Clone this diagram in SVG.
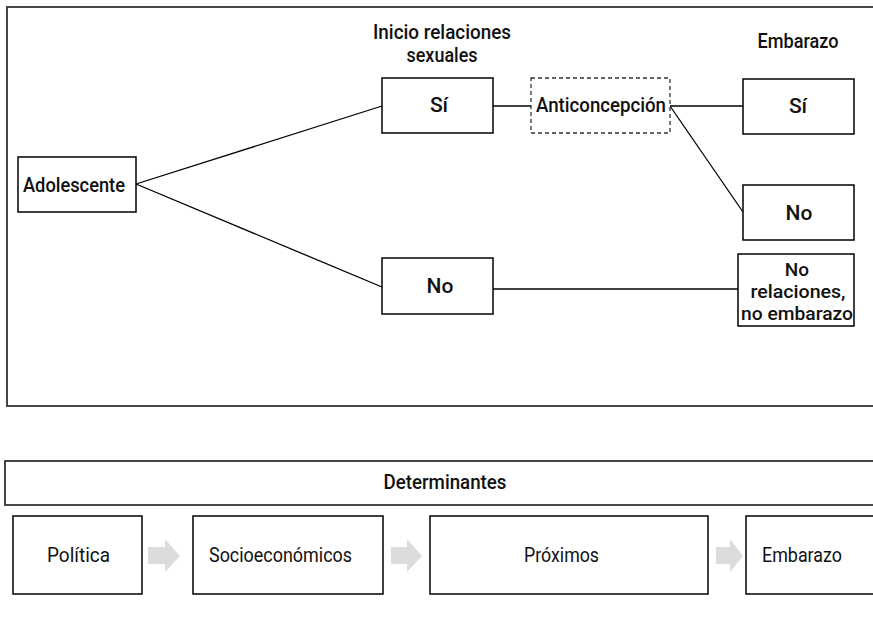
<svg xmlns="http://www.w3.org/2000/svg" width="873" height="624" viewBox="0 0 873 624">
<style>
.box{fill:#fff;stroke:#000;stroke-width:1.5}
.frame{fill:none;stroke:#333;stroke-width:1.8}
.dash{fill:#fff;stroke:#333;stroke-width:1.3;stroke-dasharray:4 3}
.b{font-family:Roboto,"Liberation Sans",Arial,sans-serif;font-size:21px;font-weight:500;fill:#111;text-anchor:middle}
.s{font-size:19px}
.r{font-family:Roboto,"Liberation Sans",Arial,sans-serif;font-size:20px;font-weight:400;fill:#111}
.ln{stroke:#000;stroke-width:1.3;fill:none}
.arr{fill:#dcdcdc}
</style>
<rect class="frame" x="7" y="7" width="880" height="399"/>
<g id="connectors">
<line class="ln" x1="136" y1="184" x2="382" y2="106"/>
<line class="ln" x1="136" y1="184" x2="382" y2="287"/>
<line class="ln" x1="493" y1="106" x2="531" y2="106"/>
<line class="ln" x1="670" y1="106" x2="743" y2="106"/>
<line class="ln" x1="670" y1="106" x2="743" y2="212"/>
<line class="ln" x1="493" y1="289" x2="738" y2="289"/>
</g>
<g id="hdr-inicio"><text class="b" x="442" y="39" textLength="138" lengthAdjust="spacingAndGlyphs">Inicio relaciones</text><text class="b" x="442" y="62" textLength="71" lengthAdjust="spacingAndGlyphs">sexuales</text></g>
<g id="hdr-embarazo"><text class="b" x="798" y="48" textLength="81" lengthAdjust="spacingAndGlyphs">Embarazo</text></g>
<g id="adolescente"><rect class="box" x="18" y="157" width="118" height="55"/><text class="b" x="74" y="192" textLength="102" lengthAdjust="spacingAndGlyphs">Adolescente</text></g>
<g id="si1"><rect class="box" x="382" y="78" width="111" height="55"/><text class="b" x="439" y="112">Sí</text></g>
<g id="no1"><rect class="box" x="382" y="258" width="111" height="56"/><text class="b" x="440" y="293">No</text></g>
<g id="anticoncepcion"><rect class="dash" x="531" y="78" width="139" height="55"/><text class="b" x="601" y="112" textLength="130" lengthAdjust="spacingAndGlyphs">Anticoncepción</text></g>
<g id="si2"><rect class="box" x="743" y="79" width="111" height="55"/><text class="b" x="798" y="113">Sí</text></g>
<g id="no2"><rect class="box" x="743" y="185" width="111" height="55"/><text class="b" x="799" y="220">No</text></g>
<g id="norel"><rect class="box" x="738" y="254" width="116" height="72"/><text class="b s" x="797" y="276">No</text><text class="b s" x="798" y="298" textLength="95" lengthAdjust="spacingAndGlyphs">relaciones,</text><text class="b s" x="797" y="320" textLength="112" lengthAdjust="spacingAndGlyphs">no embarazo</text></g>
<g id="determinantes"><rect class="frame" x="5" y="461" width="880" height="44"/><text class="b" x="445" y="489" textLength="123" lengthAdjust="spacingAndGlyphs">Determinantes</text></g>
<g id="politica"><rect class="box" x="13" y="516" width="129" height="78"/><text class="r" x="47" y="562" textLength="63" lengthAdjust="spacingAndGlyphs">Política</text></g>
<g id="socio"><rect class="box" x="193" y="516" width="190" height="78"/><text class="r" x="209" y="562" textLength="143" lengthAdjust="spacingAndGlyphs">Socioeconómicos</text></g>
<g id="proximos"><rect class="box" x="430" y="516" width="278" height="78"/><text class="r" x="524" y="562" textLength="75" lengthAdjust="spacingAndGlyphs">Próximos</text></g>
<g id="embarazo-b"><rect class="box" x="746" y="516" width="140" height="78"/><text class="r" x="762" y="562" textLength="80" lengthAdjust="spacingAndGlyphs">Embarazo</text></g>
<g id="arrows">
<polygon class="arr" points="148,547 165,547 165,539 180,556 165,572 165,564 148,564"/>
<polygon class="arr" points="391,547 407,547 407,539 422,556 407,572 407,564 391,564"/>
<polygon class="arr" points="716,547 730,547 730,539 743,556 730,572 730,564 716,564"/>
</g>
</svg>
